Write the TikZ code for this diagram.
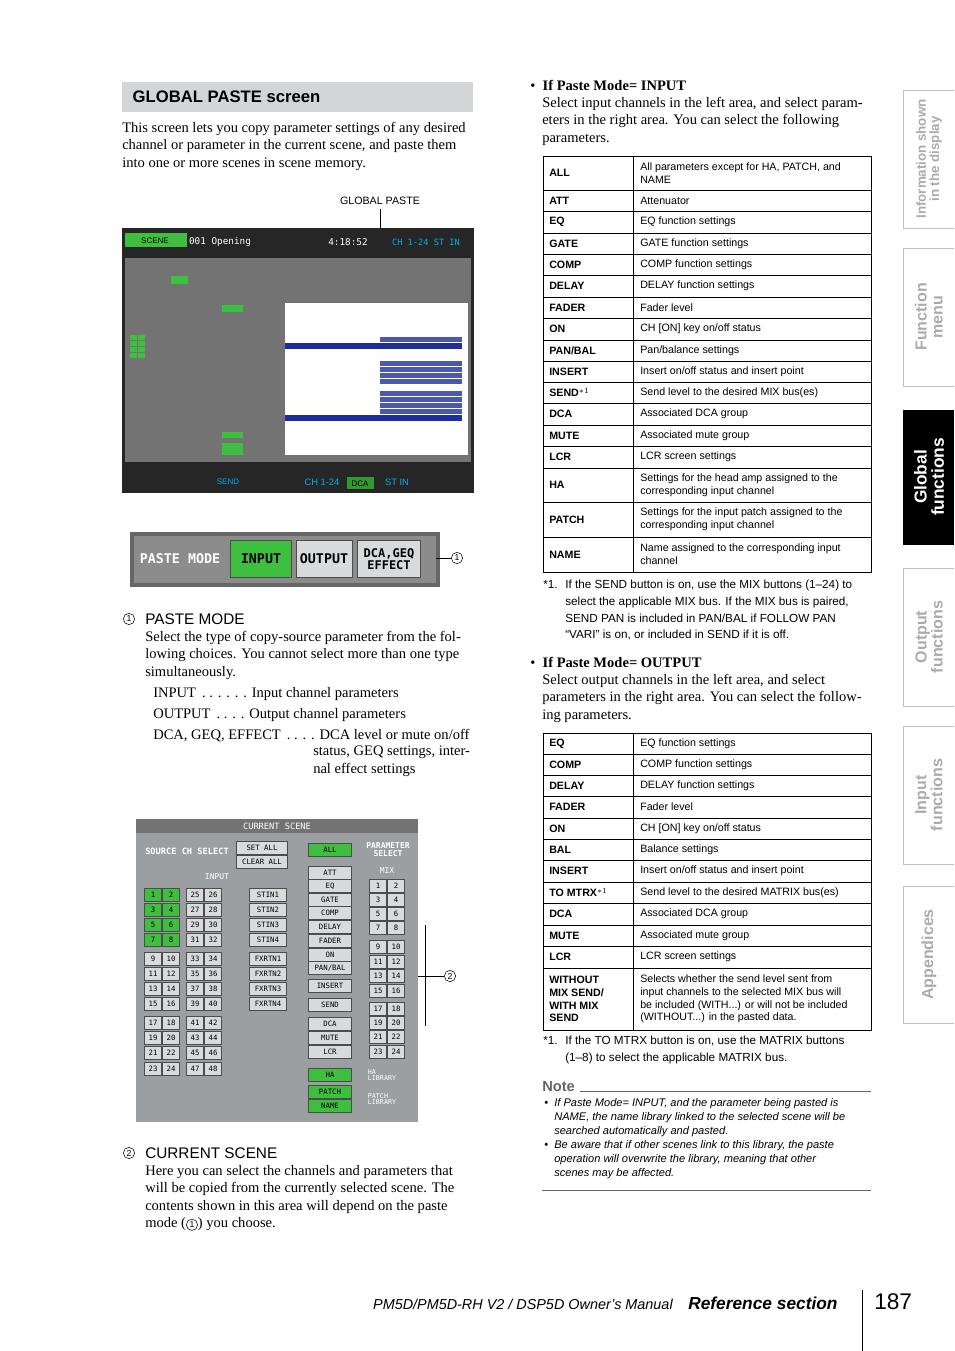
\documentclass[tikz,border=0pt]{standalone}
\usepackage{fontspec}
\setmainfont{Liberation Serif}
\setsansfont{Liberation Sans}
\setmonofont{DejaVu Sans Mono}
\usetikzlibrary{positioning}
\definecolor{hdrgray}{HTML}{D4D5D6}
\definecolor{tabgray}{HTML}{A9ABAD}
\definecolor{lcdgreen}{HTML}{3FBF3F}
\definecolor{panelgray}{HTML}{9C9FA2}
\definecolor{btngray}{HTML}{D9DADB}
\definecolor{scrblue}{HTML}{1E2E9C}
\tikzset{
  body/.style={anchor=north west, align=left, inner sep=0pt, font=\fontsize{10.9}{13.1}\selectfont},
  cellname/.style={anchor=west, inner sep=0pt, font=\sffamily\bfseries\fontsize{8}{9.5}\selectfont},
  celltext/.style={anchor=west, inner sep=0pt, align=left, font=\sffamily\fontsize{8}{9.5}\selectfont},
  btn/.style={draw=black!70, fill=btngray, minimum width=13pt, minimum height=9.5pt, inner sep=0pt, font=\ttfamily\fontsize{5.5}{6}\selectfont},
  btnon/.style={btn, fill=lcdgreen},
  circnum/.style={circle, draw, inner sep=0.6pt, minimum size=8.5pt, font=\sffamily\fontsize{6.5}{7}\selectfont}
}
\begin{document}
\begin{tikzpicture}[x=0.75pt, y=-0.75pt]
\useasboundingbox (0,0) rectangle (954,1351);

% ---- left column
\fill[hdrgray] (122,82) rectangle (473,112);
\node[anchor=west, font=\sffamily\bfseries\fontsize{12.5}{14}\selectfont] (title) at (128,97) {GLOBAL PASTE screen};
\node[body] (intro) at (122,122) {This screen lets you copy parameter settings of any desired\\channel or parameter in the current scene, and paste them\\into one or more scenes in scene memory.};

% screenshot
\node[font=\sffamily\fontsize{8}{9}\selectfont] (gplabel) at (380,201) {GLOBAL PASTE};
\fill[black!85] (122,228) rectangle (474,493);
\fill[black!55] (125,258) rectangle (471,462);
\fill[white] (285,303) rectangle (468,455);
\fill[scrblue] (285,343) rectangle (462,349);
\fill[scrblue] (285,415) rectangle (462,421);
\foreach \yy in {337,361,367,373,379,391,397,403,409} \fill[scrblue!80] (380,\yy) rectangle (462,\yy+5);
\fill[lcdgreen] (125,233) rectangle (187,247);
\node[font=\sffamily\fontsize{6}{6}\selectfont, text=black] (scn) at (155,241) {SCENE};
\node[font=\ttfamily\fontsize{7}{7}\selectfont, text=white] (scnum) at (220,242) {001 Opening};
\node[font=\ttfamily\fontsize{7}{7}\selectfont, text=white] (time) at (348,242) {4:18:52};
\node[font=\ttfamily\fontsize{6.5}{7}\selectfont, text=cyan] (meter) at (426,242) {CH 1-24 ST IN};
\fill[lcdgreen] (171,276) rectangle (188,284);
\foreach \xx/\yy in {130/335,138/335,130/341,138/341,130/347,138/347,130/353,138/353} \fill[lcdgreen] (\xx,\yy) rectangle (\xx+7,\yy+5);
\fill[lcdgreen] (222,305) rectangle (243,312);
\fill[lcdgreen] (222,432) rectangle (243,438);
\fill[lcdgreen] (222,443) rectangle (243,449);
\fill[lcdgreen] (222,449) rectangle (243,455);
\node[font=\sffamily\fontsize{6}{6}\selectfont, text=cyan] (sendtxt) at (228,482) {SEND};
\node[font=\sffamily\fontsize{7}{7}\selectfont, text=cyan] (chtxt) at (322,482) {CH 1-24};
\fill[lcdgreen!80!black] (347,477) rectangle (374,489);
\node[font=\sffamily\fontsize{6}{6}\selectfont] (dcatxt) at (360,484) {DCA};
\node[font=\sffamily\fontsize{7}{7}\selectfont, text=cyan] (stin) at (397,482) {ST IN};
\draw (gplabel.south) -- (380,228);

% paste mode bar
\fill[black!60] (130,532) rectangle (440,587);
\fill[black!45] (134,536) rectangle (436,583);
\node[font=\ttfamily\bfseries\fontsize{10}{10}\selectfont, text=white] (pm) at (180,559) {PASTE MODE};
\node[btnon, minimum width=46pt, minimum height=28pt, font=\ttfamily\bfseries\fontsize{10}{10}\selectfont] (pin) at (261,559) {INPUT};
\node[btn, minimum width=42pt, minimum height=28pt, font=\ttfamily\bfseries\fontsize{10}{10}\selectfont] (pout) at (324,559) {OUTPUT};
\node[btn, minimum width=47pt, minimum height=28pt, align=center, font=\ttfamily\bfseries\fontsize{9}{9}\selectfont] (pdca) at (389,559) {DCA,GEQ\\EFFECT};
\node[circnum] (c1) at (457,558) {1};
\draw (436,558) -- (c1);

% section 1
\node[circnum] (h1) at (129,619) {1};
\node[anchor=west, inner sep=0pt, font=\sffamily\fontsize{11.5}{13}\selectfont] (pmhead) at (145,619) {PASTE MODE};
\node[body] (pmtext) at (145,631) {Select the type of copy-source parameter from the fol-\\lowing choices. You cannot select more than one type\\simultaneously.};
\node[body] (li1) at (153,687) {INPUT \,. . . . . . Input channel parameters};
\node[body] (li2) at (153,708) {OUTPUT \,. . . . Output channel parameters};
\node[body] (li3) at (153,729) {DCA, GEQ, EFFECT \,. . . . DCA level or mute on/off};
\node[body] (li3b) at (313,746) {status, GEQ settings, inter-\\nal effect settings};

% current scene panel
\fill[panelgray] (136,819) rectangle (418,1122);
\fill[black!55] (136,819) rectangle (418,833);
\node[font=\ttfamily\fontsize{6.5}{7}\selectfont, text=white] (cstitle) at (277,826) {CURRENT SCENE};
\node[font=\ttfamily\bfseries\fontsize{6.5}{7}\selectfont, text=white] (srcsel) at (187,851) {SOURCE CH SELECT};
\node[btn, minimum width=38pt] (setall) at (262,848) {SET ALL};
\node[btn, minimum width=38pt] (clrall) at (262,862) {CLEAR ALL};
\node[font=\ttfamily\fontsize{6}{6}\selectfont, text=white] (inlbl) at (217,877) {INPUT};
\foreach \yy [count=\i] in {895,910,925,940,959,974,989,1004,1023,1038,1053,1069} {
  \pgfmathtruncatemacro{\ca}{2*\i-1}
  \pgfmathtruncatemacro{\cb}{2*\i}
  \pgfmathtruncatemacro{\cc}{24+2*\i-1}
  \pgfmathtruncatemacro{\cd}{24+2*\i}
  \ifnum\i<5
    \node[btnon] (ch\ca) at (153,\yy) {\ca};
    \node[btnon] (ch\cb) at (171,\yy) {\cb};
  \else
    \node[btn] (ch\ca) at (153,\yy) {\ca};
    \node[btn] (ch\cb) at (171,\yy) {\cb};
  \fi
  \node[btn] (ch\cc) at (195,\yy) {\cc};
  \node[btn] (ch\cd) at (213,\yy) {\cd};
}
\foreach \nm/\yy in {STIN1/895,STIN2/910,STIN3/925,STIN4/940,FXRTN1/959,FXRTN2/974,FXRTN3/989,FXRTN4/1004}
  \node[btn, minimum width=28pt] (\nm) at (268,\yy) {\nm};
\foreach \nm/\yy in {ALL/850,ATT/873,EQ/886,GATE/900,COMP/913,DELAY/927,FADER/941,ON/955,{PAN/BAL}/968,INSERT/986,SEND/1005,DCA/1024,MUTE/1038,LCR/1052,HA/1075,PATCH/1092,NAME/1106} {
  \ifnum\yy<851 \def\st{btnon}\else\ifnum\yy>1070 \def\st{btnon}\else\def\st{btn}\fi\fi
  \node[\st, minimum width=32pt] (par\yy) at (330,\yy) {\nm};
}
\node[font=\ttfamily\bfseries\fontsize{6}{6}\selectfont, text=white, align=center] (parsel) at (388,850) {PARAMETER\\SELECT};
\node[font=\ttfamily\fontsize{6}{6}\selectfont, text=white] (mixlbl) at (387,871) {MIX};
\foreach \yy [count=\i] in {886,900,914,928,947,962,976,991,1009,1023,1037,1052} {
  \pgfmathtruncatemacro{\ma}{2*\i-1}
  \pgfmathtruncatemacro{\mb}{2*\i}
  \node[btn] (mix\ma) at (378,\yy) {\ma};
  \node[btn] (mix\mb) at (396,\yy) {\mb};
}
\node[font=\ttfamily\fontsize{5}{5}\selectfont, text=white, align=left] (halib) at (382,1075) {HA\\LIBRARY};
\node[font=\ttfamily\fontsize{5}{5}\selectfont, text=white, align=left] (ptlib) at (382,1099) {PATCH\\LIBRARY};
\node[circnum] (c2) at (450,976) {2};
\draw (425,925) -- (425,1026);
\draw (418,976) -- (c2);

% section 2
\node[circnum] (h2) at (129,1153) {2};
\node[anchor=west, inner sep=0pt, font=\sffamily\fontsize{11.5}{13}\selectfont] (cshead) at (145,1153) {CURRENT SCENE};
\node[body] (cstext) at (145,1165) {Here you can select the channels and parameters that\\will be copied from the currently selected scene. The\\contents shown in this area will depend on the paste\\mode (\tikz[baseline=(m.base)]\node[circnum] (m) {1};) you choose.};

% ---- right column
\node[body] (b1) at (530,80) {\textbullet\ \ \textbf{If Paste Mode= INPUT}};
\node[body] (b1t) at (542,97) {Select input channels in the left area, and select param-\\eters in the right area. You can select the following\\parameters.};
\draw (543,156) rectangle (871,572);
\draw (633,156) -- (633,572);
\foreach \ya/\yb/\nm/\ds in {
 156/190/ALL/{All parameters except for HA, PATCH, and\\NAME},
 190/211/ATT/{Attenuator}, 211/233/EQ/{EQ function settings},
 233/254/GATE/{GATE function settings}, 254/275/COMP/{COMP function settings},
 275/297/DELAY/{DELAY function settings}, 297/318/FADER/{Fader level},
 318/340/ON/{CH [ON] key on/off status}, 340/361/{PAN/BAL}/{Pan/balance settings},
 361/382/INSERT/{Insert on/off status and insert point},
 382/403/{SEND$^{\ast1}$}/{Send level to the desired MIX bus(es)},
 403/425/DCA/{Associated DCA group}, 425/446/MUTE/{Associated mute group},
 446/468/LCR/{LCR screen settings},
 468/502/HA/{Settings for the head amp assigned to the\\corresponding input channel},
 502/537/PATCH/{Settings for the input patch assigned to the\\corresponding input channel},
 537/572/NAME/{Name assigned to the corresponding input\\channel}} {
  \draw (543,\yb) -- (871,\yb);
  \node[cellname] at (549,{(\ya+\yb)/2}) {\nm};
  \node[celltext] at (640,{(\ya+\yb)/2}) {\ds};
}
\node[body, font=\sffamily\fontsize{8.8}{12.5}\selectfont] (fn1a) at (543,580) {*1.};
\node[body, font=\sffamily\fontsize{8.8}{12.5}\selectfont] (fn1) at (565,580) {If the SEND button is on, use the MIX buttons (1–24) to\\select the applicable MIX bus. If the MIX bus is paired,\\SEND PAN is included in PAN/BAL if FOLLOW PAN\\“VARI” is on, or included in SEND if it is off.};

\node[body] (b2) at (530,657) {\textbullet\ \ \textbf{If Paste Mode= OUTPUT}};
\node[body] (b2t) at (542,674) {Select output channels in the left area, and select\\parameters in the right area. You can select the follow-\\ing parameters.};
\draw (543,733) rectangle (871,1030);
\draw (633,733) -- (633,1030);
\foreach \ya/\yb/\nm/\ds in {
 733/754/EQ/{EQ function settings}, 754/775/COMP/{COMP function settings},
 775/796/DELAY/{DELAY function settings}, 796/818/FADER/{Fader level},
 818/839/ON/{CH [ON] key on/off status}, 839/860/BAL/{Balance settings},
 860/882/INSERT/{Insert on/off status and insert point},
 882/903/{TO MTRX$^{\ast1}$}/{Send level to the desired MATRIX bus(es)},
 903/925/DCA/{Associated DCA group}, 925/946/MUTE/{Associated mute group},
 946/968/LCR/{LCR screen settings}} {
  \draw (543,\yb) -- (871,\yb);
  \node[cellname] at (549,{(\ya+\yb)/2}) {\nm};
  \node[celltext] at (640,{(\ya+\yb)/2}) {\ds};
}
\node[cellname, align=left] (wo) at (549,999) {WITHOUT\\MIX SEND/\\WITH MIX\\SEND};
\node[celltext] (wod) at (640,999) {Selects whether the send level sent from\\input channels to the selected MIX bus will\\be included (WITH...) or will not be included\\(WITHOUT...) in the pasted data.};
\node[body, font=\sffamily\fontsize{8.8}{12.5}\selectfont] (fn2a) at (543,1036) {*1.};
\node[body, font=\sffamily\fontsize{8.8}{12.5}\selectfont] (fn2) at (565,1036) {If the TO MTRX button is on, use the MATRIX buttons\\(1–8) to select the applicable MATRIX bus.};

\node[anchor=west, inner sep=0pt, text=black!60, font=\sffamily\bfseries\fontsize{11}{12}\selectfont] (note) at (542,1087) {Note};
\draw[black!60] (580,1091) -- (871,1091);
\node[body, font=\sffamily\itshape\fontsize{8.3}{10.6}\selectfont] (nt) at (544,1098) {\textbullet\ \ If Paste Mode= INPUT, and the parameter being pasted is\\\phantom{\textbullet\ \ }NAME, the name library linked to the selected scene will be\\\phantom{\textbullet\ \ }searched automatically and pasted.\\\textbullet\ \ Be aware that if other scenes link to this library, the paste\\\phantom{\textbullet\ \ }operation will overwrite the library, meaning that other\\\phantom{\textbullet\ \ }scenes may be affected.};
\draw[black!60] (542,1190) -- (871,1190);

% ---- side tabs
\foreach \ya/\yb/\fs/\tx in {90/228/10/{Information shown\\in the display}, 248/386/12/{Function\\menu}, 568/706/12/{Output\\functions}, 726/864/12/{Input\\functions}, 886/1023/12/{Appendices}} {
  \draw[black!25] (954,\ya) -- (903,\ya) -- (903,\yb) -- (954,\yb);
  \node[rotate=90, text=tabgray, align=center, font=\sffamily\bfseries\fontsize{\fs}{\fs}\selectfont] at (929,{(\ya+\yb)/2}) {\tx};
}
\fill[black] (903,410) rectangle (954,545);
\node[rotate=90, text=white, align=center, font=\sffamily\bfseries\fontsize{13}{13}\selectfont] (globtab) at (929,477) {Global\\functions};

% ---- footer
\node[anchor=base east, inner sep=0pt, font=\sffamily\itshape\fontsize{10.8}{12}\selectfont] (man) at (673,1309) {PM5D/PM5D-RH V2 / DSP5D Owner's Manual};
\node[anchor=base west, inner sep=0pt, font=\sffamily\bfseries\itshape\fontsize{13}{14}\selectfont] (refs) at (688,1309) {Reference section};
\draw (862,1290) -- (862,1351);
\node[anchor=base west, inner sep=0pt, font=\sffamily\fontsize{17}{18}\selectfont] (pg) at (874,1309) {187};
\end{tikzpicture}
\end{document}
